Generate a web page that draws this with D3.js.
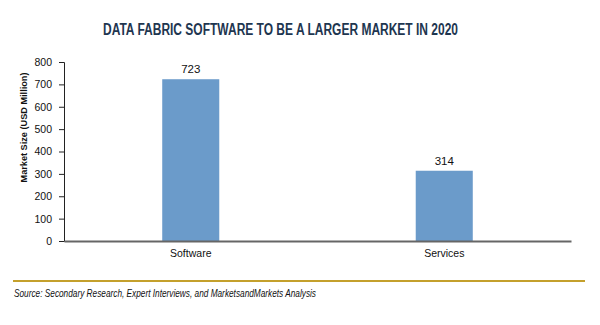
<!DOCTYPE html>
<html>
<head>
<meta charset="utf-8">
<script src="https://cdn.jsdelivr.net/npm/d3@7"></script>
<style>
  html, body { margin: 0; padding: 0; background: #fff; }
  svg { display: block; }
</style>
</head>
<body>
<svg id="chart" width="600" height="325"></svg>
<script>
// Market size by segment, USD million
const categories = ["Software", "Services"];
const values = [723, 314];
const yTicks = [0, 100, 200, 300, 400, 500, 600, 700, 800];

const svg = d3.select("#chart");
const margin = { left: 64, right: 29, top: 62, bottom: 84 };
const W = 600, H = 325;

const x = d3.scaleBand()
  .domain(categories)
  .range([margin.left, W - margin.right])
  .paddingInner(0.775)
  .paddingOuter(0.3875);

const y = d3.scaleLinear()
  .domain([0, 800])
  .range([H - margin.bottom, margin.top]);

const sans = "Arial, 'Liberation Sans', sans-serif";

// Title (condensed to fit its width)
svg.append("text")
  .attr("x", 280.5)
  .attr("y", 35)
  .attr("text-anchor", "middle")
  .attr("font-family", sans)
  .attr("font-weight", "bold")
  .attr("font-size", 16)
  .attr("textLength", 355)
  .attr("lengthAdjust", "spacingAndGlyphs")
  .attr("fill", "#1e3650")
  .text("DATA FABRIC SOFTWARE TO BE A LARGER MARKET IN 2020");

// Bars
svg.append("g").selectAll("rect")
  .data(categories)
  .join("rect")
  .attr("x", d => x(d))
  .attr("y", (d, i) => y(values[i]))
  .attr("width", x.bandwidth())
  .attr("height", (d, i) => y(0) - y(values[i]))
  .attr("fill", "#6b9bca");

// Value labels
svg.append("g").selectAll("text")
  .data(categories)
  .join("text")
  .attr("x", d => x(d) + x.bandwidth() / 2)
  .attr("y", (d, i) => y(values[i]) - 6)
  .attr("text-anchor", "middle")
  .attr("font-family", sans)
  .attr("font-size", 11.5)
  .attr("fill", "#111")
  .text((d, i) => values[i]);

// Y axis
const yAxis = svg.append("g")
  .attr("transform", `translate(${margin.left},0)`)
  .call(d3.axisLeft(y).tickValues(yTicks).tickSize(5).tickPadding(7));
yAxis.select(".domain").attr("stroke", "#222").attr("stroke-width", 1);
yAxis.selectAll(".tick line").attr("stroke", "#222");
yAxis.selectAll(".tick text")
  .attr("font-family", sans)
  .attr("font-size", 10.5)
  .attr("fill", "#111");

// X axis
const xAxis = svg.append("g")
  .attr("transform", `translate(0,${y(0)})`)
  .call(d3.axisBottom(x).tickSize(0).tickPadding(9));
xAxis.select(".domain").attr("stroke", "#666").attr("stroke-width", 2);
xAxis.selectAll(".tick text")
  .attr("font-family", sans)
  .attr("font-size", 10.5)
  .attr("fill", "#111");

// Y axis title
svg.append("text")
  .attr("transform", "translate(27,127.5) rotate(-90)")
  .attr("text-anchor", "middle")
  .attr("font-family", sans)
  .attr("font-weight", "bold")
  .attr("font-size", 9.5)
  .attr("textLength", 110)
  .attr("lengthAdjust", "spacingAndGlyphs")
  .attr("fill", "#111")
  .text("Market Size (USD Million)");

// Footer rule and source
svg.append("line")
  .attr("x1", 13).attr("x2", 585)
  .attr("y1", 281).attr("y2", 281)
  .attr("stroke", "#c4a02c")
  .attr("stroke-width", 2);

svg.append("text")
  .attr("x", 14)
  .attr("y", 297)
  .attr("font-family", sans)
  .attr("font-style", "italic")
  .attr("font-size", 10)
  .attr("textLength", 302)
  .attr("lengthAdjust", "spacingAndGlyphs")
  .attr("fill", "#111")
  .text("Source: Secondary Research, Expert Interviews, and MarketsandMarkets Analysis");
</script>
</body>
</html>
